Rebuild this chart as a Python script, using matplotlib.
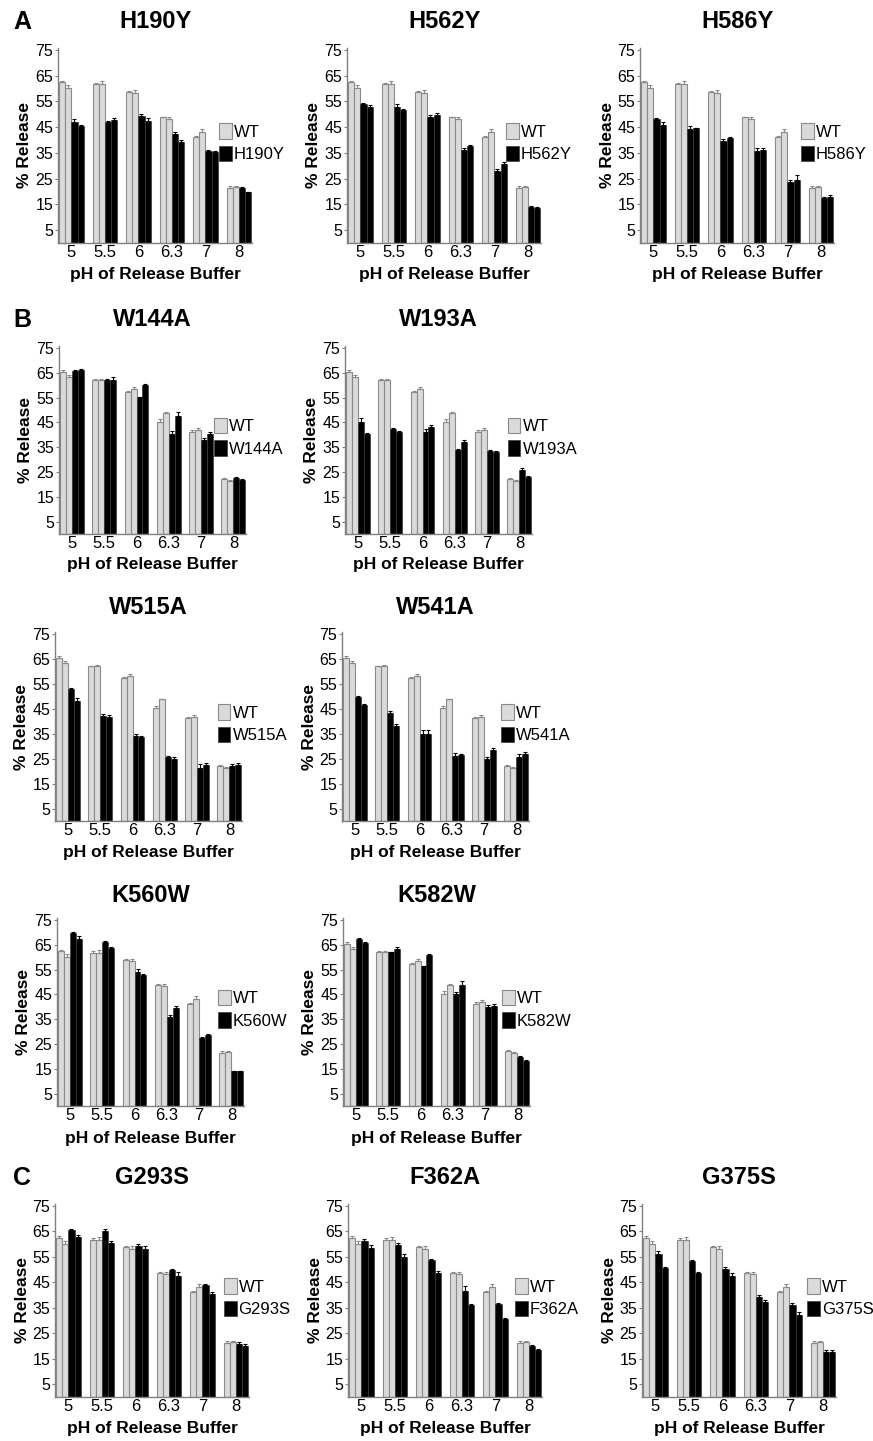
import numpy as np
import matplotlib
matplotlib.use("Agg")
import matplotlib.pyplot as plt

plt.rcParams['font.family'] = ['Liberation Sans', 'DejaVu Sans']

# Step 1: Data (% release, two WT bars and two mutant bars per pH)
ph_labels = ['5', '5.5', '6', '6.3', '7', '8']

wt_set1 = [[62.5, 60.2], [61.8, 61.8], [58.8, 58.3], [48.8, 48.3], [41.2, 43.2], [21.2, 21.6]]
wt_err1 = [[0.6, 1.2], [0.5, 1.0], [0.3, 1.0], [0.3, 0.7], [0.4, 1.2], [0.9, 0.4]]
wt_set2 = [[65.2, 63.5], [62.0, 62.0], [57.3, 58.3], [45.3, 48.8], [41.3, 41.9], [22.2, 21.2]]
wt_err2 = [[1.0, 0.5], [0.3, 0.4], [0.4, 0.8], [1.0, 0.3], [0.5, 0.8], [0.4, 0.5]]

h190y = [[47.2, 45.3], [47.0, 47.8], [49.3, 47.5], [42.2, 39.2], [35.8, 35.5], [21.3, 19.7]]
h190y_err = [[0.8, 0.5], [0.6, 0.9], [0.8, 1.0], [0.8, 1.0], [0.3, 0.3], [0.6, 0.2]]
h562y = [[54.0, 53.0], [53.0, 51.8], [48.8, 49.8], [36.3, 37.8], [28.0, 30.7], [13.8, 13.6]]
h562y_err = [[0.3, 0.8], [1.0, 0.3], [0.9, 0.6], [0.5, 0.4], [0.6, 0.9], [0.4, 0.4]]
h586y = [[48.0, 46.0], [44.3, 44.5], [39.7, 40.8], [35.8, 36.0], [23.8, 24.5], [17.3, 17.7]]
h586y_err = [[0.6, 1.0], [1.0, 0.3], [0.9, 0.3], [1.2, 0.8], [0.5, 1.8], [0.4, 0.8]]
w144a = [[65.8, 66.0], [62.0, 62.2], [55.2, 60.0], [40.5, 47.7], [38.0, 40.2], [22.7, 21.7]]
w144a_err = [[0.3, 0.4], [0.3, 1.0], [0.2, 0.6], [1.2, 1.5], [0.6, 1.0], [0.3, 0.3]]
w193a = [[45.0, 40.2], [42.5, 41.0], [41.2, 43.0], [34.0, 37.2], [33.4, 33.2], [25.8, 23.0]]
w193a_err = [[1.8, 0.6], [0.4, 0.6], [1.0, 0.8], [0.2, 0.8], [0.3, 0.4], [0.8, 0.2]]
w515a = [[53.0, 48.0], [42.2, 41.7], [34.0, 33.8], [25.5, 25.0], [21.2, 22.5], [22.2, 22.3]]
w515a_err = [[0.3, 1.2], [0.6, 0.8], [0.8, 0.4], [0.6, 0.6], [1.6, 0.8], [0.6, 0.8]]
w541a = [[49.6, 46.7], [43.4, 38.3], [34.8, 34.8], [26.2, 26.4], [25.0, 28.4], [25.5, 26.8]]
w541a_err = [[0.5, 0.3], [0.8, 0.8], [1.8, 1.8], [1.2, 0.6], [0.6, 1.0], [1.2, 0.8]]
k560w = [[69.7, 67.2], [66.0, 63.8], [54.0, 52.7], [36.0, 39.7], [27.6, 28.6], [14.0, 14.0]]
k560w_err = [[0.3, 1.2], [0.4, 0.4], [1.2, 0.4], [0.5, 0.8], [0.3, 0.5], [0.2, 0.2]]
k582w = [[67.3, 65.8], [62.0, 63.2], [56.3, 60.8], [45.0, 48.8], [40.0, 40.5], [19.7, 18.3]]
k582w_err = [[0.6, 0.5], [0.2, 0.8], [0.3, 0.5], [0.8, 1.5], [0.8, 0.6], [0.3, 0.3]]
g293s = [[65.6, 62.8], [65.2, 60.4], [59.4, 58.0], [49.8, 47.6], [44.0, 40.6], [21.0, 20.2]]
g293s_err = [[0.5, 1.0], [0.6, 0.8], [0.5, 1.2], [0.6, 1.5], [0.3, 0.6], [0.5, 0.7]]
f362a = [[61.2, 58.5], [59.8, 55.0], [53.7, 48.5], [41.8, 36.2], [36.4, 30.8], [20.0, 18.5]]
f362a_err = [[1.0, 1.0], [0.6, 1.2], [0.4, 0.8], [1.6, 0.5], [0.6, 0.4], [0.3, 0.4]]
g375s = [[56.0, 50.8], [53.5, 48.8], [50.3, 47.7], [39.4, 37.2], [36.3, 32.2], [17.8, 17.7]]
g375s_err = [[1.2, 0.2], [0.4, 0.3], [0.8, 1.0], [0.5, 0.8], [0.5, 1.0], [0.6, 0.8]]

panels = [
    ('H190Y', wt_set1, wt_err1, h190y, h190y_err),
    ('H562Y', wt_set1, wt_err1, h562y, h562y_err),
    ('H586Y', wt_set1, wt_err1, h586y, h586y_err),
    ('W144A', wt_set2, wt_err2, w144a, w144a_err),
    ('W193A', wt_set2, wt_err2, w193a, w193a_err),
    ('W515A', wt_set2, wt_err2, w515a, w515a_err),
    ('W541A', wt_set2, wt_err2, w541a, w541a_err),
    ('K560W', wt_set1, wt_err1, k560w, k560w_err),
    ('K582W', wt_set2, wt_err2, k582w, k582w_err),
    ('G293S', wt_set1, wt_err1, g293s, g293s_err),
    ('F362A', wt_set1, wt_err1, f362a, f362a_err),
    ('G375S', wt_set1, wt_err1, g375s, g375s_err),
]

# Step 2: Layout in pixels (row: y of 75, y of 0, title y, xlabel y)
W, H = 873, 1441
rows = [(50, 243, 22, 275), (348, 534, 320, 565), (634, 821, 608, 853),
        (920, 1106, 895, 1138), (1206, 1397, 1178, 1429)]
row_lefts = [[58, 347, 640], [59, 345], [55, 342], [57, 343], [55, 348, 642]]
row_pitch = [33.5, 32.3, 32.3, 32.3, 33.5]
legend_x = [0.83, 0.82, 0.83, 0.83, 0.87, 0.87, 0.85, 0.86, 0.85, 0.87, 0.86, 0.85]
panel_letters = [('A', 0), ('B', 1), ('C', 4)]

x_lo, x_hi = -0.4, 5.4
y_top = 75.8
bar_w = 0.185
wt_color, wt_edge = '#dadada', '#8a8a8a'
axis_gray = '#808080'

fig = plt.figure(figsize=(W / 100, H / 100), dpi=100)

# Step 3: Draw each panel
k = 0
for r, (p75, p0, ty, xly) in enumerate(rows):
    for left in row_lefts[r]:
        name, wt, wt_err, mut, mut_err = panels[k]
        px_per = (p0 - p75) / 75.0
        top_px = p75 - (y_top - 75) * px_per
        width_px = (x_hi - x_lo) * row_pitch[r]
        h_px = p0 - top_px
        ax = fig.add_axes([left / W, 1 - p0 / H, width_px / W, h_px / H])

        x = np.arange(len(ph_labels))
        wt = np.array(wt)
        mut = np.array(mut)
        wt_err = np.array(wt_err)
        mut_err = np.array(mut_err)
        offsets = [-1.5 * bar_w, -0.5 * bar_w, 0.5 * bar_w, 1.5 * bar_w]
        for j in range(2):
            ax.bar(x + offsets[j], wt[:, j], bar_w, color=wt_color, edgecolor=wt_edge,
                   linewidth=0.8, label='WT' if j == 0 else None, zorder=2)
            ax.errorbar(x + offsets[j], wt[:, j], yerr=[np.zeros(6), wt_err[:, j]],
                        fmt='none', ecolor=wt_edge, elinewidth=0.8, capsize=1.5,
                        capthick=0.8, zorder=3)
        for j in range(2):
            ax.bar(x + offsets[j + 2], mut[:, j], bar_w, color='black', edgecolor='#3a3a3a',
                   linewidth=0.5, label=name if j == 0 else None, zorder=2)
            ax.errorbar(x + offsets[j + 2], mut[:, j], yerr=[np.zeros(6), mut_err[:, j]],
                        fmt='none', ecolor='black', elinewidth=0.8, capsize=1.5,
                        capthick=0.8, zorder=3)

        ax.set_xlim(x_lo, x_hi)
        ax.set_ylim(0, y_top)
        ax.set_yticks(np.arange(5, 76, 10))
        ax.set_xticks(x)
        ax.set_xticklabels(ph_labels)
        for side in ['top', 'right']:
            ax.spines[side].set_visible(False)
        for side in ['left', 'bottom']:
            ax.spines[side].set_color(axis_gray)
            ax.spines[side].set_linewidth(1.0)
        ax.tick_params(axis='y', direction='out', length=2.5, width=0.8, color=axis_gray,
                       labelsize=11.5, pad=1)
        ax.tick_params(axis='x', length=0, labelsize=12, pad=1.5)

        ax.set_title(name, fontsize=17, fontweight='bold', va='center', pad=0,
                     y=1 + (top_px - ty) / h_px)
        ax.set_xlabel('pH of Release Buffer', fontsize=12.5, fontweight='bold', va='center')
        ax.xaxis.set_label_coords(0.5, -(xly - p0) / h_px)
        ax.set_ylabel('% Release', fontsize=12.5, fontweight='bold', va='center')
        ax.yaxis.set_label_coords(-33 / width_px, 0.5)

        ax.legend(loc='center left', bbox_to_anchor=(legend_x[k], 39 / y_top),
                  frameon=False, fontsize=12, handlelength=0.75, handleheight=1.05,
                  handletextpad=0.12, labelspacing=0.35, borderpad=0, borderaxespad=0)
        k += 1

# Step 4: Panel letters
for letter, r in panel_letters:
    fig.text(22 / W, 1 - rows[r][2] / H, letter, fontsize=18, fontweight='bold',
             ha='center', va='center')

plt.savefig('out.png', dpi=100)
